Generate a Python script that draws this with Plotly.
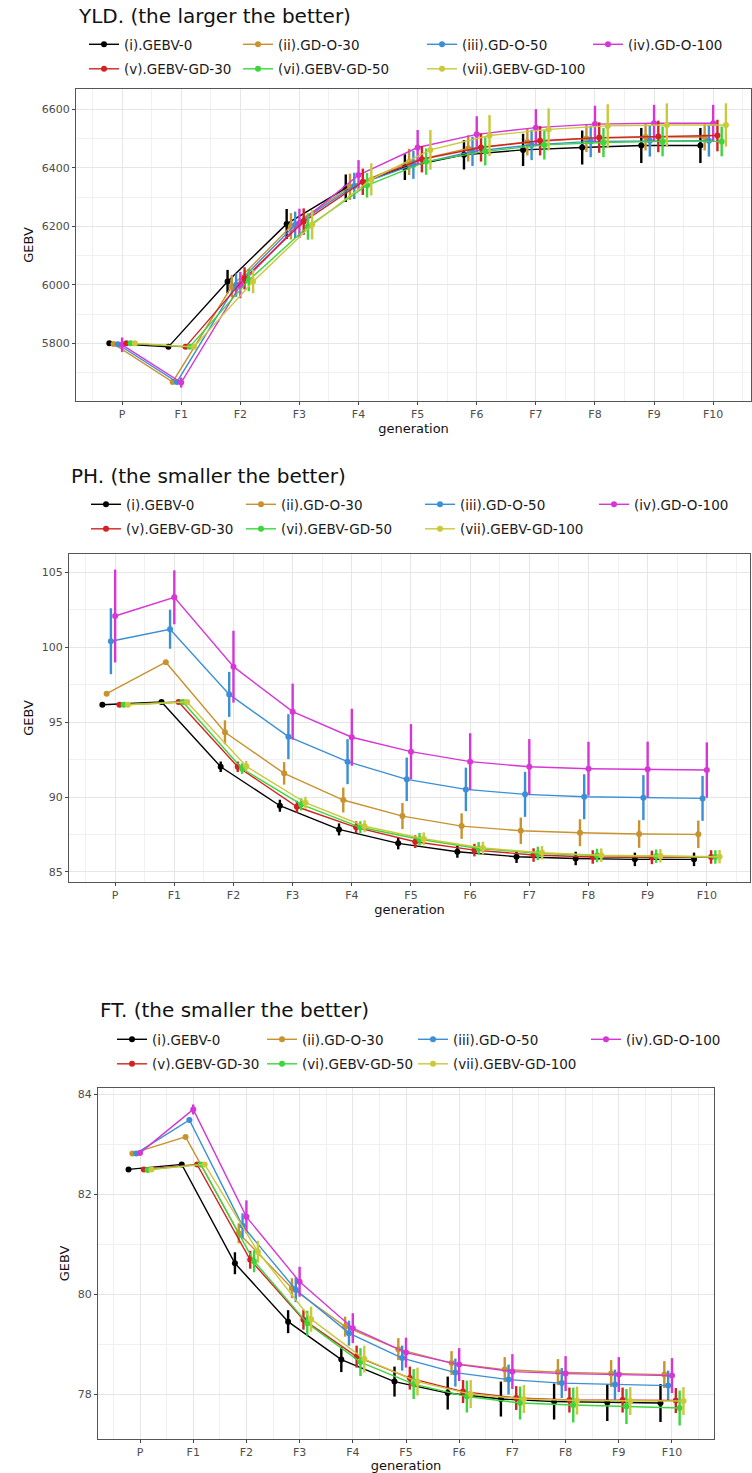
import plotly.graph_objects as go

W, H = 752, 1473
FONT = "DejaVu Sans"

generations = ["P", "F1", "F2", "F3", "F4", "F5", "F6", "F7", "F8", "F9", "F10"]

series_names = [
    "(i).GEBV-0", "(ii).GD-O-30", "(iii).GD-O-50", "(iv).GD-O-100",
    "(v).GEBV-GD-30", "(vi).GEBV-GD-50", "(vii).GEBV-GD-100",
]
series_colors = ["#000000", "#C8922E", "#3A8FD6", "#D636D6", "#D22222", "#3BD63B", "#C9C93A"]

# ---- YLD: mean GEBV and spread per generation ----
yld_gebv0 = [5800, 5788, 6011, 6208, 6330, 6402, 6444, 6461, 6469, 6476, 6476]
yld_gdo30 = [5798, 5668, 5995, 6200, 6335, 6420, 6466, 6488, 6500, 6505, 6505]
yld_gdo50 = [5797, 5668, 5999, 6205, 6338, 6410, 6456, 6478, 6490, 6492, 6492]
yld_gdo100 = [5795, 5666, 5999, 6210, 6375, 6469, 6514, 6537, 6549, 6552, 6552]
yld_gebvgd30 = [5800, 5788, 6022, 6216, 6352, 6429, 6469, 6492, 6503, 6507, 6510]
yld_gebvgd50 = [5800, 5788, 6016, 6199, 6340, 6421, 6456, 6478, 6486, 6490, 6490]
yld_gebvgd100 = [5800, 5788, 6011, 6205, 6360, 6461, 6510, 6531, 6543, 6546, 6546]

yld_gebv0_sd = [3, 3, 40, 51, 47, 44, 50, 55, 58, 60, 60]
yld_gdo30_sd = [5, 5, 38, 45, 45, 45, 45, 46, 46, 46, 46]
yld_gdo50_sd = [8, 8, 40, 45, 45, 48, 50, 52, 54, 54, 54]
yld_gdo100_sd = [25, 17, 45, 50, 51, 60, 62, 63, 63, 63, 63]
yld_gebvgd30_sd = [3, 3, 38, 45, 45, 45, 48, 50, 52, 54, 54]
yld_gebvgd50_sd = [3, 3, 38, 45, 42, 45, 48, 50, 50, 51, 51]
yld_gebvgd100_sd = [3, 3, 40, 50, 55, 68, 70, 72, 74, 74, 74]

# ---- PH ----
ph_gebv0 = [96.16, 96.34, 92.02, 89.42, 87.84, 86.91, 86.35, 86.02, 85.90, 85.84, 85.84]
ph_gdo30 = [96.90, 99.00, 94.32, 91.58, 89.80, 88.73, 88.06, 87.75, 87.62, 87.53, 87.51]
ph_gdo50 = [100.40, 101.20, 96.85, 94.03, 92.36, 91.18, 90.51, 90.18, 90.02, 89.96, 89.91]
ph_gdo100 = [102.08, 103.33, 98.70, 95.70, 93.99, 93.03, 92.36, 92.02, 91.89, 91.85, 91.80]
ph_gebvgd30 = [96.16, 96.34, 92.02, 89.35, 87.98, 87.02, 86.46, 86.13, 86.00, 85.97, 86.00]
ph_gebvgd50 = [96.16, 96.34, 91.90, 89.51, 87.98, 87.18, 86.57, 86.24, 86.10, 86.05, 86.00]
ph_gebvgd100 = [96.16, 96.34, 92.05, 89.62, 88.05, 87.22, 86.60, 86.28, 86.12, 86.08, 86.02]

ph_gebv0_sd = [0.05, 0.05, 0.35, 0.40, 0.40, 0.40, 0.40, 0.42, 0.45, 0.45, 0.45]
ph_gdo30_sd = [0.10, 0.10, 0.80, 0.75, 0.83, 0.87, 0.85, 0.88, 0.90, 0.92, 0.92]
ph_gdo50_sd = [2.20, 1.30, 1.50, 1.50, 1.50, 1.45, 1.45, 1.50, 1.50, 1.50, 1.50]
ph_gdo100_sd = [3.10, 1.80, 2.40, 1.87, 1.90, 1.84, 1.90, 1.85, 1.80, 1.85, 1.85]
ph_gebvgd30_sd = [0.05, 0.05, 0.35, 0.40, 0.40, 0.42, 0.42, 0.45, 0.45, 0.45, 0.45]
ph_gebvgd50_sd = [0.05, 0.05, 0.35, 0.40, 0.40, 0.42, 0.42, 0.45, 0.45, 0.45, 0.45]
ph_gebvgd100_sd = [0.05, 0.05, 0.35, 0.40, 0.40, 0.42, 0.42, 0.45, 0.45, 0.45, 0.45]

# ---- FT ----
ft_gebv0 = [82.50, 82.60, 80.62, 79.45, 78.69, 78.25, 78.02, 77.90, 77.85, 77.83, 77.82]
ft_gdo30 = [82.82, 83.15, 81.22, 80.12, 79.35, 78.90, 78.62, 78.49, 78.44, 78.41, 78.39]
ft_gdo50 = [82.82, 83.49, 81.37, 80.09, 79.22, 78.72, 78.43, 78.29, 78.22, 78.19, 78.17]
ft_gdo100 = [82.83, 83.70, 81.55, 80.25, 79.32, 78.83, 78.59, 78.45, 78.41, 78.39, 78.37]
ft_gebvgd30 = [82.50, 82.60, 80.69, 79.49, 78.75, 78.32, 78.05, 77.92, 77.88, 77.88, 77.87]
ft_gebvgd50 = [82.49, 82.60, 80.66, 79.42, 78.64, 78.20, 77.95, 77.82, 77.78, 77.75, 77.72]
ft_gebvgd100 = [82.50, 82.60, 80.85, 79.50, 78.70, 78.25, 78.00, 77.90, 77.87, 77.86, 77.86]

ft_gebv0_sd = [0.02, 0.02, 0.22, 0.23, 0.25, 0.30, 0.33, 0.35, 0.36, 0.37, 0.38]
ft_gdo30_sd = [0.02, 0.03, 0.20, 0.20, 0.20, 0.22, 0.24, 0.25, 0.26, 0.27, 0.27]
ft_gdo50_sd = [0.02, 0.05, 0.25, 0.25, 0.25, 0.25, 0.28, 0.30, 0.30, 0.30, 0.30]
ft_gdo100_sd = [0.03, 0.10, 0.33, 0.30, 0.30, 0.30, 0.33, 0.35, 0.35, 0.35, 0.35]
ft_gebvgd30_sd = [0.02, 0.02, 0.18, 0.20, 0.22, 0.23, 0.23, 0.24, 0.25, 0.25, 0.25]
ft_gebvgd50_sd = [0.02, 0.02, 0.22, 0.25, 0.28, 0.30, 0.32, 0.33, 0.35, 0.35, 0.35]
ft_gebvgd100_sd = [0.02, 0.02, 0.22, 0.25, 0.27, 0.28, 0.28, 0.28, 0.28, 0.28, 0.28]

panel_titles = ["YLD. (the larger the better)", "PH. (the smaller the better)", "FT. (the smaller the better)"]

panel_means = [
    [yld_gebv0, yld_gdo30, yld_gdo50, yld_gdo100, yld_gebvgd30, yld_gebvgd50, yld_gebvgd100],
    [ph_gebv0, ph_gdo30, ph_gdo50, ph_gdo100, ph_gebvgd30, ph_gebvgd50, ph_gebvgd100],
    [ft_gebv0, ft_gdo30, ft_gdo50, ft_gdo100, ft_gebvgd30, ft_gebvgd50, ft_gebvgd100],
]
panel_sds = [
    [yld_gebv0_sd, yld_gdo30_sd, yld_gdo50_sd, yld_gdo100_sd, yld_gebvgd30_sd, yld_gebvgd50_sd, yld_gebvgd100_sd],
    [ph_gebv0_sd, ph_gdo30_sd, ph_gdo50_sd, ph_gdo100_sd, ph_gebvgd30_sd, ph_gebvgd50_sd, ph_gebvgd100_sd],
    [ft_gebv0_sd, ft_gdo30_sd, ft_gdo50_sd, ft_gdo100_sd, ft_gebvgd30_sd, ft_gebvgd50_sd, ft_gebvgd100_sd],
]

# Panel geometry in pixels: plot box, axis ranges, ticks, title / legend rows
panel_layout = [
    dict(left=76, right=751, top=89, bottom=401, xr=[-0.78, 10.64], yr=[5603, 6669],
         yticks=[5800, 6000, 6200, 6400, 6600], yminor=[5700, 5900, 6100, 6300, 6500],
         title_y=16, rows=[43, 65], text_x=[124, 278, 462, 628]),
    dict(left=69, right=750, top=554, bottom=882, xr=[-0.78, 10.73], yr=[84.33, 106.22],
         yticks=[85, 90, 95, 100, 105], yminor=[87.5, 92.5, 97.5, 102.5],
         title_y=476, rows=[503, 525], text_x=[126, 281, 460, 634]),
    dict(left=98, right=714, top=1088, bottom=1439, xr=[-0.79, 10.79], yr=[77.10, 84.13],
         yticks=[78, 80, 82, 84], yminor=[77, 79, 81, 83],
         title_y=1010, rows=[1038, 1060], text_x=[152, 302, 453, 626]),
]

DODGE_STEP = 0.072
gen_pos = list(range(len(generations)))
x_minor = [g + 0.5 for g in range(-1, len(generations))]

fig = go.Figure()
legends = {}
annotations = []

for p, pl in enumerate(panel_layout):
    ax_suffix = "" if p == 0 else str(p + 1)
    for k, name in enumerate(series_names):
        col = k if k < 4 else k - 4
        leg_idx = p * 4 + col + 1
        leg_name = "legend" if leg_idx == 1 else f"legend{leg_idx}"
        offset = (k - 3) * DODGE_STEP
        color = series_colors[k]
        fig.add_trace(go.Scatter(
            x=[g + offset for g in gen_pos],
            y=panel_means[p][k],
            error_y=dict(type="data", array=panel_sds[p][k], width=0, thickness=2.4, color=color),
            mode="lines+markers",
            line=dict(color=color, width=1.4),
            marker=dict(color=color, size=6),
            name=name,
            xaxis="x" + ax_suffix,
            yaxis="y" + ax_suffix,
            legend=leg_name,
            legendgroup=f"p{p}s{k}",
            showlegend=True,
        ))

    for col in range(4):
        leg_idx = p * 4 + col + 1
        leg_key = "legend" if leg_idx == 1 else f"legend{leg_idx}"
        legends[leg_key] = dict(
            x=(pl["text_x"][col] - 40) / W,
            y=1 - (pl["rows"][0] - 14) / H,
            xanchor="left", yanchor="top",
            orientation="v",
            bgcolor="rgba(0,0,0,0)",
            borderwidth=0,
            tracegroupgap=4,
            font=dict(family=FONT, size=13.5, color="#1a1a1a"),
        )

    annotations.append(dict(
        text=panel_titles[p], xref="paper", yref="paper",
        x=pl["left"] / W, y=1 - pl["title_y"] / H,
        xanchor="left", yanchor="middle", showarrow=False,
        font=dict(family=FONT, size=20, color="#111111"),
    ))

    axis_common = dict(
        showline=True, mirror=True, linecolor="#555555", linewidth=1,
        ticks="outside", ticklen=3, tickcolor="#444444", tickwidth=1,
        gridcolor="#E6E6E6", gridwidth=1.2, zeroline=False,
        tickfont=dict(family=FONT, size=11, color="#4D4D4D"),
    )
    fig.layout["xaxis" + ax_suffix] = dict(
        axis_common,
        domain=[pl["left"] / W, pl["right"] / W],
        anchor="y" + ax_suffix,
        range=pl["xr"],
        tickmode="array", tickvals=gen_pos, ticktext=generations,
        minor=dict(tickmode="array", tickvals=x_minor, showgrid=True,
                   gridcolor="#F0F0F0", gridwidth=0.8, ticks=""),
        title=dict(text="generation", standoff=1,
                   font=dict(family=FONT, size=13, color="#111111")),
    )
    fig.layout["yaxis" + ax_suffix] = dict(
        axis_common,
        domain=[1 - pl["bottom"] / H, 1 - pl["top"] / H],
        anchor="x" + ax_suffix,
        range=pl["yr"],
        tickmode="array", tickvals=pl["yticks"],
        minor=dict(tickmode="array", tickvals=pl["yminor"], showgrid=True,
                   gridcolor="#F0F0F0", gridwidth=0.8, ticks=""),
        title=dict(text="GEBV", standoff=5,
                   font=dict(family=FONT, size=13, color="#111111")),
    )

fig.update_layout(
    width=W, height=H,
    margin=dict(l=0, r=0, t=0, b=0),
    paper_bgcolor="white", plot_bgcolor="white",
    annotations=annotations,
    **legends,
)

fig.write_html("out.html")
